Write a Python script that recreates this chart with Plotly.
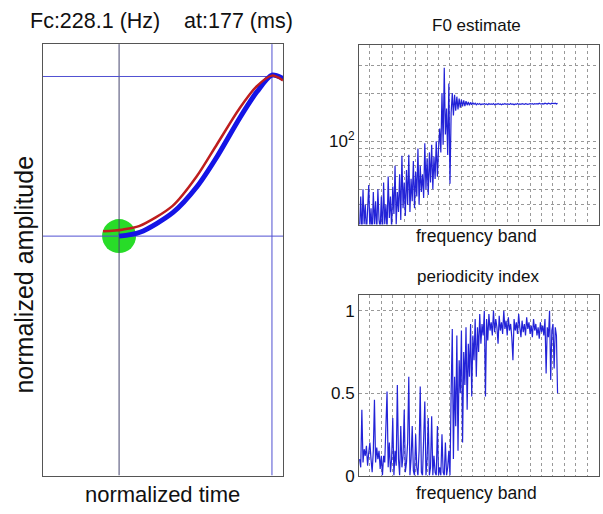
import plotly.graph_objects as go

# ---------------- data ----------------
# left panel: normalized time / amplitude
red_t = [0.25, 0.33, 0.40, 0.54, 0.64, 0.725, 0.82, 0.89, 0.954, 1.0]
red_a = [0.566, 0.570, 0.578, 0.625, 0.693, 0.768, 0.852, 0.902, 0.927, 0.916]
blue_t = [0.317, 0.404, 0.542, 0.642, 0.725, 0.821, 0.892, 0.954, 1.0]
blue_a = [0.555, 0.564, 0.610, 0.670, 0.739, 0.830, 0.890, 0.928, 0.920]
cursor_t = 0.317
cursor_a = 0.555
peak_t = 0.954
peak_a = 0.925

# right panels: per frequency band
bands = list(range(1, 175))
f0_hz = [
    28, 45, 25, 50, 30, 40, 26, 44, 53, 28,
    38, 25, 48, 30, 42, 26, 50, 32, 28, 45,
    25, 55, 30, 40, 27, 60, 33, 45, 28, 52,
    35, 70, 30, 48, 36, 62, 32, 81, 38, 55,
    34, 66, 40, 82, 36, 58, 42, 75, 38, 64,
    45, 90, 40, 70, 48, 62, 44, 97, 50, 78,
    46, 85, 55, 95, 50, 80, 58, 100, 60, 90,
    120, 85, 200, 95, 288, 110, 160, 82, 230, 54,
    150, 200, 145, 195, 155, 190, 158, 185, 162, 182,
    165, 180, 166, 178, 168, 176, 168, 175, 169, 174,
    170, 173, 169, 172, 170, 172, 169, 171, 170, 172,
    170, 171, 169, 172, 170, 171, 170, 172, 169, 171,
    170, 172, 170, 171, 169, 171, 170, 172, 170, 171,
    171, 170, 172, 170, 171, 169, 171, 170, 172, 170,
    171, 170, 172, 171, 170, 172, 171, 170, 171, 172,
    171, 172, 170, 172, 171, 172, 171, 173, 171, 172,
    172, 171, 173, 172, 171, 173, 172, 171, 173, 172,
    172, 173, 171, 173,
]
periodicity = [
    0.10, 0.05, 0.40, 0.08, 0.16, 0.12, 0.18, 0.06, 0.14, 0.20,
    0.10, 0.02, 0.15, 0.46, 0.08, 0.17, 0.10, 0.15, 0.04, 0.12,
    0.00, 0.12, 0.08, 0.30, 0.51, 0.05, 0.20, 0.02, 0.10, 0.35,
    0.00, 0.15, 0.06, 0.55, 0.10, 0.00, 0.30, 0.05, 0.12, 0.40,
    0.02, 0.08, 0.20, 0.60, 0.00, 0.10, 0.30, 0.03, 0.00, 0.25,
    0.05, 0.00, 0.15, 0.54, 0.02, 0.00, 0.20, 0.45, 0.00, 0.10,
    0.35, 0.00, 0.05, 0.36, 0.00, 0.12, 0.02, 0.00, 0.30, 0.00,
    0.05, 0.00, 0.25, 0.02, 0.00, 0.20, 0.00, 0.05, 0.15, 0.00,
    0.50, 0.89, 0.10, 0.60, 0.30, 0.85, 0.15, 0.70, 0.50, 0.88,
    0.20, 0.75, 0.55, 0.90, 0.40, 0.80, 0.60, 0.92, 0.48, 0.85,
    0.70, 0.95, 0.60, 0.90, 0.75, 0.98, 0.80, 0.92, 0.85, 1.00,
    0.48, 0.95, 0.82, 0.98, 0.88, 0.93, 0.85, 1.00, 0.87, 0.95,
    0.90, 0.80, 0.97, 0.88, 0.93, 0.86, 1.00, 0.89, 0.94, 0.85,
    0.96, 0.88, 0.92, 0.84, 0.70, 0.95, 0.88, 0.93, 0.86, 0.98,
    0.90, 0.84, 0.94, 0.87, 0.92, 0.85, 0.96, 0.89, 0.93, 0.86,
    0.91, 0.84, 0.95, 0.88, 0.92, 0.85, 0.90, 0.83, 0.93, 0.87,
    0.91, 0.85, 0.95, 0.62, 0.90, 0.84, 1.00, 0.58, 0.88, 0.92,
    0.65, 0.90, 0.85, 0.50,
]
f0_major_ticks = [100]
f0_major_text = ["10<sup>2</sup>"]
f0_minor_ticks = [40, 50, 60, 70, 80, 90, 200, 300]
pi_ticks = [0, 0.5, 1]
pi_ticktext = ["0", "0.5", "1"]

title_text = "Fc:228.1 (Hz)&nbsp;&nbsp;&nbsp;&nbsp;at:177 (ms)"

# ---------------- figure ----------------
W, H = 603, 514
FONT = "Liberation Sans, Arial, sans-serif"
TRACE_BLUE = "rgb(35,35,215)"


def px(x):
    return x / W


def py(y):
    return 1 - y / H


fig = go.Figure()

# left panel
fig.add_trace(go.Scatter(x=[cursor_t], y=[cursor_a], mode="markers",
                         marker=dict(size=34, color="rgb(40,220,40)", line=dict(width=0)),
                         xaxis="x", yaxis="y", hoverinfo="skip"))
fig.add_trace(go.Scatter(x=[cursor_t, cursor_t], y=[0, 1], mode="lines",
                         line=dict(color="rgb(70,70,110)", width=1), xaxis="x", yaxis="y"))
fig.add_trace(go.Scatter(x=[peak_t, peak_t], y=[0, 1], mode="lines",
                         line=dict(color="rgb(80,80,210)", width=1), xaxis="x", yaxis="y"))
fig.add_trace(go.Scatter(x=[0, 1], y=[cursor_a, cursor_a], mode="lines",
                         line=dict(color="rgb(80,80,210)", width=1), xaxis="x", yaxis="y"))
fig.add_trace(go.Scatter(x=[0, 1], y=[peak_a, peak_a], mode="lines",
                         line=dict(color="rgb(80,80,210)", width=1), xaxis="x", yaxis="y"))
fig.add_trace(go.Scatter(x=blue_t, y=blue_a, mode="lines",
                         line=dict(color="rgb(20,20,230)", width=5, shape="spline", smoothing=0.8),
                         xaxis="x", yaxis="y"))
fig.add_trace(go.Scatter(x=red_t, y=red_a, mode="lines",
                         line=dict(color="rgb(190,30,30)", width=2.5, shape="spline", smoothing=0.8),
                         xaxis="x", yaxis="y"))

# right panels
fig.add_trace(go.Scatter(x=bands, y=f0_hz, mode="lines",
                         line=dict(color=TRACE_BLUE, width=1.2), xaxis="x2", yaxis="y2"))
fig.add_trace(go.Scatter(x=bands, y=periodicity, mode="lines",
                         line=dict(color=TRACE_BLUE, width=1.2), xaxis="x3", yaxis="y3"))

frame = dict(showline=True, mirror=True, linecolor="#555", linewidth=1, zeroline=False)
grid = dict(showgrid=True, gridcolor="#999", gridwidth=1, griddash="dot")

fig.update_layout(
    width=W, height=H,
    margin=dict(l=0, r=0, t=0, b=0),
    paper_bgcolor="white", plot_bgcolor="white",
    showlegend=False,
    font=dict(family=FONT, color="#111"),
    xaxis=dict(domain=[px(43), px(283)], range=[0, 1], showticklabels=False,
               showgrid=False, ticks="", **frame),
    yaxis=dict(domain=[py(485), py(45)], range=[0, 1], showticklabels=False,
               showgrid=False, ticks="", **frame),
    xaxis2=dict(domain=[px(359), px(599)], range=[0.5, 210.2], tick0=0, dtick=10,
                showticklabels=False, ticks="", anchor="y2", **grid, **frame),
    yaxis2=dict(domain=[py(229), py(46)], type="log", range=[1.4771, 2.6021],
                tickmode="array", tickvals=f0_major_ticks, ticktext=f0_major_text, ticks="",
                minor=dict(tickmode="array", tickvals=f0_minor_ticks, showgrid=True,
                           gridcolor="#999", gridwidth=1, griddash="dot", ticks=""),
                tickfont=dict(size=17), anchor="x2", **grid, **frame),
    xaxis3=dict(domain=[px(359), px(599)], range=[0.5, 210.2], tick0=0, dtick=10,
                showticklabels=False, ticks="", anchor="y3", **grid, **frame),
    yaxis3=dict(domain=[py(485), py(301)], range=[0, 1.095],
                tickmode="array", tickvals=pi_ticks, ticktext=pi_ticktext, ticks="",
                tickfont=dict(size=17), anchor="x3", **grid, **frame),
)

ann = [
    (title_text, 161, 21, 21.5, 0),
    ("normalized time", 162, 504, 22, 0),
    ("normalized amplitude", 24, 280, 25, -90),
    ("F0 estimate", 477, 26, 17, 0),
    ("frequency band", 477, 241, 17.5, 0),
    ("periodicity index", 478, 282, 17, 0),
    ("frequency band", 477, 503, 17.5, 0),
]
for text, x, y, size, ang in ann:
    fig.add_annotation(text=text, x=px(x), y=py(y), xref="paper", yref="paper",
                       showarrow=False, textangle=ang, xanchor="center", yanchor="middle",
                       font=dict(size=size, family=FONT, color="#111"))

fig.write_html("out.html")
